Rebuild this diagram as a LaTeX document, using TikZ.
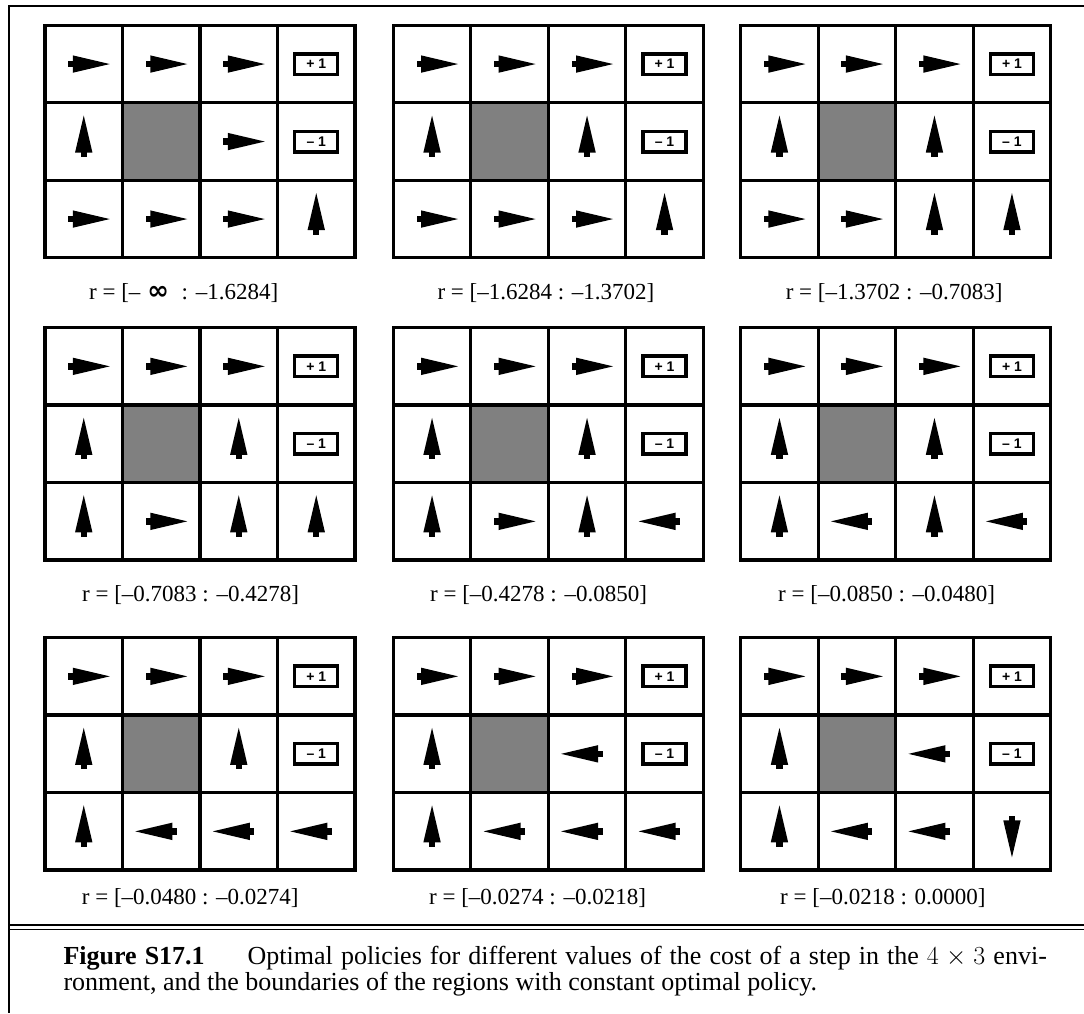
\RequirePackage{fix-cm}
\documentclass[tikz,border=0pt]{standalone}
\usepackage{fontspec}
\setmainfont{Liberation Serif}
\newfontfamily\boxfont{Liberation Sans}
\newfontfamily\inffont{DejaVu Sans}
\definecolor{cellgrey}{gray}{0.5}
\tikzset{
  gridline/.style={line width=3.3pt},
  frameline/.style={line width=2pt},
  dblline/.style={line width=1.7pt},
  termbox/.style={draw, line width=3.4pt, fill=white, minimum width=43pt, minimum height=20.5pt, inner sep=0pt, font=\boxfont\bfseries\fontsize{14}{14}\selectfont},
  rlabel/.style={anchor=base west, inner sep=0pt, font=\fontsize{23}{27}\selectfont},
  captext/.style={anchor=base west, inner sep=0pt, font=\fontsize{26}{30}\selectfont},
  pics/parrow/.style={code={
    \fill (26,0) -- (-11,8.7) -- (-11,-8.7) -- cycle;
    \fill (-15.5,-3.2) rectangle (-10.5,3.2);}},
}
\newcommand\pgrid[9]{%
  \fill[cellgrey] (77.5,77.5) rectangle (155,155);
  \foreach \k in {1,2,3}{\draw[gridline] (77.5*\k,0) -- (77.5*\k,232.5);}
  \foreach \k in {1,2}{\draw[gridline] (0,77.5*\k) -- (310,77.5*\k);}
  \draw[gridline] (0,0) rectangle (310,232.5);
  \node[termbox] at (271.25,38.75) {+ 1};
  \node[termbox] at (271.25,116.25) {– 1};
  \path (38.75,38.75) pic[rotate=#1] {parrow};
  \path (116.25,38.75) pic[rotate=#2] {parrow};
  \path (193.75,38.75) pic[rotate=#3] {parrow};
  \path (38.75,116.25) pic[rotate=#4] {parrow};
  \path (193.75,116.25) pic[rotate=#5] {parrow};
  \path (38.75,193.75) pic[rotate=#6] {parrow};
  \path (116.25,193.75) pic[rotate=#7] {parrow};
  \path (193.75,193.75) pic[rotate=#8] {parrow};
  \path (271.25,193.75) pic[rotate=#9] {parrow};
}
\begin{document}
\begin{tikzpicture}[x=1pt,y=-1pt]
\useasboundingbox (0,0) rectangle (1084,1013);
\fill[white] (0,0) rectangle (1084,1013);
% frame
\coordinate (ftl) at (8.7,6.2);
\coordinate (ftr) at (1084,6.2);
\coordinate (fbl) at (8.7,1013);
\draw[frameline] (ftr) -- (ftl) -- (fbl);
\coordinate (d1l) at (8.7,925); \coordinate (d1r) at (1084,925);
\coordinate (d2l) at (8.7,929.5); \coordinate (d2r) at (1084,929.5);
\draw[dblline] (d1l) -- (d1r);
\draw[dblline] (d2l) -- (d2r);
% grids
\begin{scope}[shift={(45,25.3)}]\pgrid{0}{0}{0}{90}{0}{0}{0}{0}{90}\end{scope}
\begin{scope}[shift={(393.3,25.3)}]\pgrid{0}{0}{0}{90}{90}{0}{0}{0}{90}\end{scope}
\begin{scope}[shift={(740.7,25.3)}]\pgrid{0}{0}{0}{90}{90}{0}{0}{90}{90}\end{scope}
\begin{scope}[shift={(45,327.6)}]\pgrid{0}{0}{0}{90}{90}{90}{0}{90}{90}\end{scope}
\begin{scope}[shift={(393.3,327.6)}]\pgrid{0}{0}{0}{90}{90}{90}{0}{90}{180}\end{scope}
\begin{scope}[shift={(740.7,327.6)}]\pgrid{0}{0}{0}{90}{90}{90}{180}{90}{180}\end{scope}
\begin{scope}[shift={(45,637.6)}]\pgrid{0}{0}{0}{90}{90}{90}{180}{180}{180}\end{scope}
\begin{scope}[shift={(393.3,637.6)}]\pgrid{0}{0}{0}{90}{180}{90}{180}{180}{180}\end{scope}
\begin{scope}[shift={(740.7,637.6)}]\pgrid{0}{0}{0}{90}{180}{90}{180}{180}{270}\end{scope}
% labels
\node[rlabel] (l1) at (89,299.3) {r = [–\hspace{0.3em}{\inffont\bfseries\fontsize{26}{27}\selectfont ∞}\hspace{0.55em}: –1.6284]};
\node[rlabel] (l2) at (437.3,299.3) {r = [–1.6284 : –1.3702]};
\node[rlabel] (l3) at (785.6,299.3) {r = [–1.3702 : –0.7083]};
\node[rlabel] (l4) at (82,601.7) {r = [–0.7083 : –0.4278]};
\node[rlabel] (l5) at (430,601.7) {r = [–0.4278 : –0.0850]};
\node[rlabel] (l6) at (778,601.7) {r = [–0.0850 : –0.0480]};
\node[rlabel] (l7) at (81.7,904.5) {r = [–0.0480 : –0.0274]};
\node[rlabel] (l8) at (429,904.5) {r = [–0.0274 : –0.0218]};
\node[rlabel] (l9) at (780,904.5) {r = [–0.0218 : 0.0000]};
% caption
\node[captext] (cap1) at (63.3,964) {\makebox[983.4pt][s]{\textbf{Figure S17.1}\hspace{43pt}Optimal policies for different values of the cost of a step in the $4\times 3$ envi-}};
\node[captext] (cap2) at (63.3,990) {ronment, and the boundaries of the regions with constant optimal policy.};
\end{tikzpicture}
\end{document}
